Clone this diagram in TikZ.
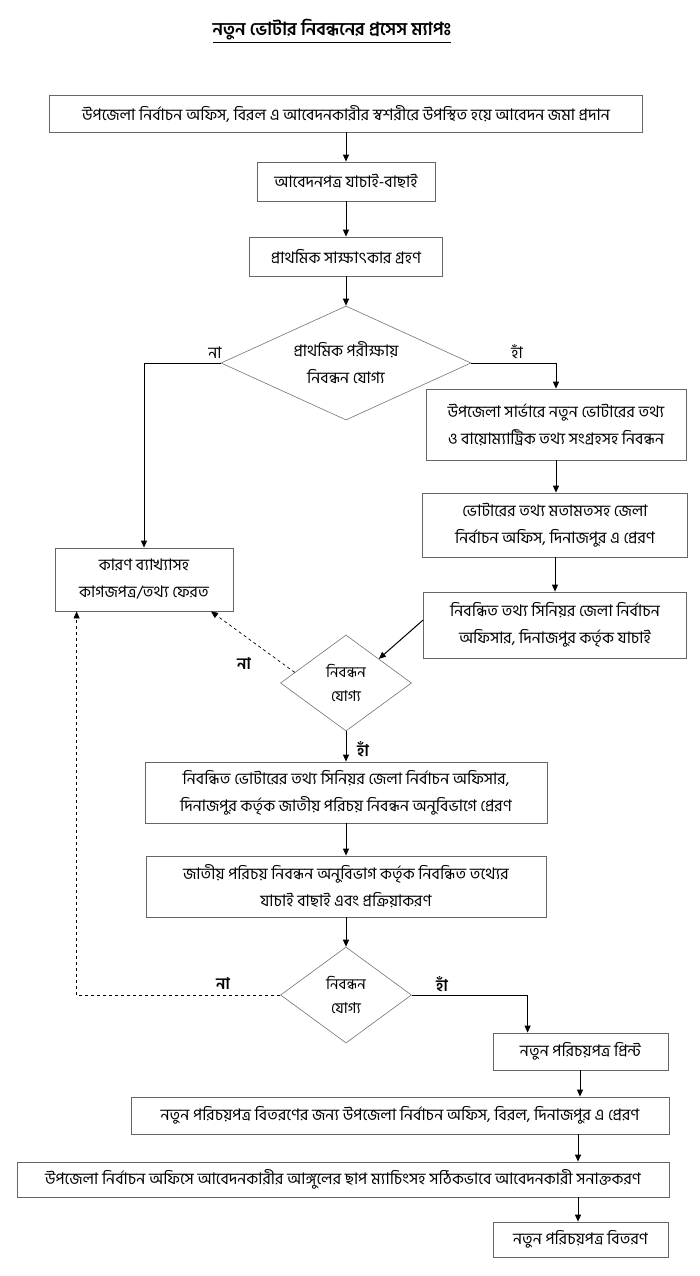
\documentclass[tikz,border=0pt]{standalone}
\usepackage{fontspec}
\setmainfont[Script=Bengali]{Hind Siliguri}
\usetikzlibrary{calc,shapes.geometric,arrows.meta}

\begin{document}
\begin{tikzpicture}[x=1pt, y=-1pt, font=\fontsize{16}{27}\selectfont,
  box/.style={rectangle, draw=black!60, line width=0.8pt, align=center, inner sep=0pt},
  dia/.style={diamond, draw=black!55, line width=0.6pt, align=center, inner sep=0pt, aspect=2},
  arr/.style={-{Triangle[length=7pt,width=6pt]}, line width=1pt},
  back/.style={arr, dashed, line width=0.7pt},
  lbl/.style={font=\fontsize{16}{18}\selectfont\bfseries}]
\useasboundingbox (0,0) rectangle (700,1276);

\node (title) at (332,31) {\fontsize{18}{20}\selectfont\bfseries\underline{নতুন ভোটার নিবন্ধনের প্রসেস ম্যাপঃ}};

% main column
\node[box, minimum width=593pt, minimum height=37pt] (b1) at (346,113.5)
  {উপজেলা নির্বাচন অফিস, বিরল এ আবেদনকারীর স্বশরীরে উপস্থিত হয়ে আবেদন জমা প্রদান};
\node[box, minimum width=178pt, minimum height=39pt] (b2) at (346,181.5) {আবেদনপত্র যাচাই-বাছাই};
\node[box, minimum width=193pt, minimum height=39pt] (b3) at (346,256.5) {প্রাথমিক সাক্ষাৎকার গ্রহণ};
\node[dia, minimum width=250pt, minimum height=114pt] (d1) at (346,363)
  {প্রাথমিক পরীক্ষায়\\নিবন্ধন যোগ্য};

% right column
\node[box, minimum width=260pt, minimum height=71pt] (b4) at (556,424.5)
  {উপজেলা সার্ভারে নতুন ভোটারের তথ্য\\ও বায়োম্যাট্রিক তথ্য সংগ্রহসহ নিবন্ধন};
\node[box, minimum width=265pt, minimum height=64pt] (b5) at (555,525)
  {ভোটারের তথ্য মতামতসহ জেলা\\নির্বাচন অফিস, দিনাজপুর এ প্রেরণ};
\node[box, minimum width=263pt, minimum height=66pt] (b6) at (555,625)
  {নিবন্ধিত তথ্য সিনিয়র জেলা নির্বাচন\\অফিসার, দিনাজপুর কর্তৃক যাচাই};

% left column
\node[box, minimum width=178pt, minimum height=63pt] (b7) at (144,579.5)
  {কারণ ব্যাখ্যাসহ\\কাগজপত্র/তথ্য ফেরত};

\node[dia, minimum width=131pt, minimum height=96pt, aspect=1.4,
  font=\fontsize{15}{24}\selectfont] (d2) at (346,683) {নিবন্ধন\\যোগ্য};
\node[box, minimum width=402pt, minimum height=61pt] (b8) at (346,792.5)
  {নিবন্ধিত ভোটারের তথ্য সিনিয়র জেলা নির্বাচন অফিসার,\\দিনাজপুর কর্তৃক জাতীয় পরিচয় নিবন্ধন অনুবিভাগে প্রেরণ};
\node[box, minimum width=400pt, minimum height=61pt] (b9) at (346,886.5)
  {জাতীয় পরিচয় নিবন্ধন অনুবিভাগ কর্তৃক নিবন্ধিত তথ্যের\\যাচাই বাছাই এবং প্রক্রিয়াকরণ};
\node[dia, minimum width=131pt, minimum height=96pt, aspect=1.4,
  font=\fontsize{15}{24}\selectfont] (d3) at (346,995) {নিবন্ধন\\যোগ্য};

% bottom
\node[box, minimum width=175pt, minimum height=37pt] (b10) at (580.5,1051.5) {নতুন পরিচয়পত্র প্রিন্ট};
\node[box, minimum width=538pt, minimum height=37pt] (b11) at (400,1115.5)
  {নতুন পরিচয়পত্র বিতরণের জন্য উপজেলা নির্বাচন অফিস, বিরল, দিনাজপুর এ প্রেরণ};
\node[box, minimum width=652pt, minimum height=35pt] (b12) at (343,1179.5)
  {উপজেলা নির্বাচন অফিসে আবেদনকারীর আঙ্গুলের ছাপ ম্যাচিংসহ সঠিকভাবে আবেদনকারী সনাক্তকরণ};
\node[box, minimum width=175pt, minimum height=35pt] (b13) at (580.5,1239.5) {নতুন পরিচয়পত্র বিতরণ};

% connectors
\draw[arr] (b1) -- (b2);
\draw[arr] (b2) -- (b3);
\draw[arr] (b3) -- (d1);
\draw[arr] (d1.west) -| (b7.north);
\draw[arr] (d1.east) -| (b4.north);
\draw[arr] (b4.south) -- (b4.south |- b5.north);
\draw[arr] (b5.south) -- (b5.south |- b6.north);
\draw[arr] ([yshift=5pt]b6.west) -- (d2.north east);
\draw[back] ($(d2.north)!0.78!(d2.west)$) -- ([xshift=67pt]b7.south);
\draw[arr] (d2) -- (b8);
\draw[arr] (b8) -- (b9);
\draw[arr] (b9) -- (d3);
\draw[back] (d3.west) -| ([xshift=22pt]b7.south west);
\draw[arr] (d3.east) -| ([xshift=35pt]b10.north west);
\draw[arr] ([xshift=-0.5pt]b10.south) -- ([xshift=-0.5pt]b10.south |- b11.north);
\draw[arr] ([xshift=-2.5pt]b10.south |- b11.south) -- ([xshift=-2.5pt]b10.south |- b12.north);
\draw[arr] ([xshift=-2.5pt]b10.south |- b12.south) -- ([xshift=-2.5pt]b13.north);

% labels
\node (no1) at (215,353) {না};
\node (yes1) at (517,352) {হাঁ};
\node[lbl] (no2) at (244,664) {না};
\node[lbl] (yes2) at (363,749) {হাঁ};
\node[lbl] (no3) at (223,984) {না};
\node[lbl] (yes3) at (442,984) {হাঁ};

\end{tikzpicture}
\end{document}
